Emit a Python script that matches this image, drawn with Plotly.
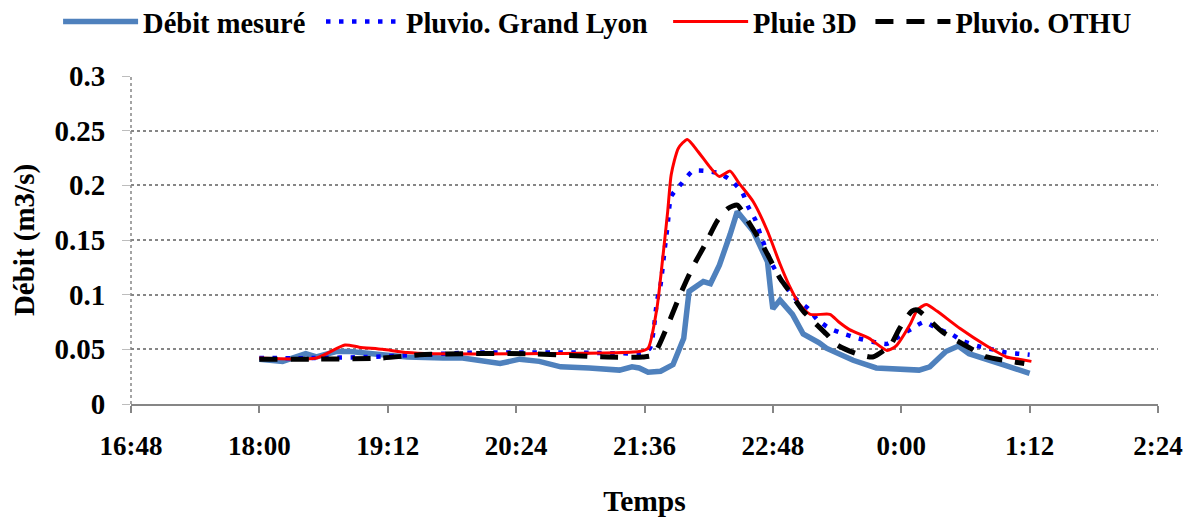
import plotly.graph_objects as go
from datetime import datetime, timedelta

# Débit mesuré (heure, m3/s)
t_mesure = ["18:00", "18:13", "18:26", "18:32", "18:43", "18:51", "19:09", "19:23", "19:43", "19:54",
            "20:15", "20:26", "20:37", "20:49", "21:05", "21:22", "21:29", "21:33", "21:38", "21:45",
            "21:52", "21:58", "22:01", "22:09", "22:13", "22:18", "22:24", "22:28", "22:37", "22:45",
            "22:47", "22:48", "22:52", "22:59", "23:05", "23:14", "23:18", "23:33", "23:46", "0:10",
            "0:16", "0:25", "0:32", "0:38", "0:57", "1:12"]
q_mesure = [0.041, 0.039, 0.046, 0.043, 0.048, 0.048, 0.045, 0.043, 0.042, 0.042,
            0.037, 0.041, 0.039, 0.034, 0.033, 0.031, 0.034, 0.033, 0.029, 0.030,
            0.036, 0.060, 0.103, 0.112, 0.110, 0.127, 0.155, 0.176, 0.158, 0.130,
            0.100, 0.087, 0.095, 0.082, 0.064, 0.056, 0.051, 0.040, 0.033, 0.031,
            0.034, 0.048, 0.053, 0.046, 0.036, 0.028]

# Pluvio. Grand Lyon
t_gl = ["18:00", "18:30", "19:00", "19:30", "20:00", "21:00", "21:35", "21:39", "21:41", "21:43",
        "21:45", "21:47", "21:49", "21:51", "21:57", "22:03", "22:11", "22:18", "22:25", "22:31",
        "22:34", "22:38", "22:41", "22:47", "22:52", "22:56", "23:01", "23:08", "23:13", "23:20",
        "23:28", "23:36", "23:44", "23:52", "23:59", "0:06", "0:13", "0:20", "0:28", "0:34",
        "0:43", "0:51", "0:59", "1:06", "1:12"]
q_gl = [0.042, 0.042, 0.043, 0.045, 0.047, 0.047, 0.047, 0.051, 0.066, 0.094,
        0.109, 0.137, 0.164, 0.190, 0.202, 0.213, 0.213, 0.211, 0.204, 0.193,
        0.181, 0.169, 0.155, 0.130, 0.115, 0.106, 0.096, 0.087, 0.077, 0.069,
        0.064, 0.060, 0.057, 0.055, 0.062, 0.069, 0.075, 0.069, 0.064, 0.058,
        0.053, 0.050, 0.047, 0.046, 0.045]

# Pluie 3D
t_3d = ["18:00", "18:32", "18:48", "18:56", "19:09", "19:23", "19:37", "20:30", "21:33", "21:38",
        "21:43", "21:46", "21:49", "21:51", "21:55", "22:00", "22:06", "22:13", "22:18", "22:24",
        "22:29", "22:37", "22:45", "22:52", "22:57", "23:03", "23:09", "23:20", "23:25", "23:31",
        "23:42", "23:52", "23:57", "0:05", "0:09", "0:14", "0:20", "0:33", "0:48", "0:59",
        "1:06", "1:13"]
q_3d = [0.042, 0.042, 0.054, 0.052, 0.050, 0.047, 0.046, 0.046, 0.048, 0.051,
        0.088, 0.130, 0.176, 0.210, 0.234, 0.242, 0.231, 0.216, 0.208, 0.213,
        0.202, 0.185, 0.158, 0.128, 0.109, 0.091, 0.082, 0.082, 0.075, 0.068,
        0.060, 0.049, 0.053, 0.073, 0.086, 0.091, 0.085, 0.069, 0.053, 0.043,
        0.041, 0.039]

# Pluvio. OTHU
t_othu = ["18:00", "18:30", "19:08", "19:30", "19:54", "20:30", "21:15", "21:35", "21:41", "21:49",
          "21:56", "22:03", "22:10", "22:17", "22:23", "22:28", "22:33", "22:42", "22:52", "22:56",
          "23:05", "23:18", "23:24", "23:35", "23:44", "23:54", "23:59", "0:06", "0:09", "0:23",
          "0:29", "0:42", "0:48", "1:01", "1:09"]
q_othu = [0.041, 0.041, 0.042, 0.045, 0.046, 0.046, 0.043, 0.043, 0.045, 0.072,
          0.100, 0.125, 0.146, 0.168, 0.179, 0.182, 0.170, 0.146, 0.115, 0.106,
          0.085, 0.064, 0.054, 0.046, 0.043, 0.054, 0.069, 0.085, 0.086, 0.066,
          0.060, 0.048, 0.043, 0.039, 0.037]

x_ticks = ["16:48", "18:00", "19:12", "20:24", "21:36", "22:48", "0:00", "1:12", "2:24"]
y_ticks = [0, 0.05, 0.1, 0.15, 0.2, 0.25, 0.3]


def to_dt(s):
    h, m = map(int, s.split(":"))
    jour = datetime(2009, 1, 1) if h >= 12 else datetime(2009, 1, 2)
    return jour + timedelta(hours=h, minutes=m)


FONT = "Liberation Serif, Times New Roman, serif"
GRIS = "#868686"

fig = go.Figure()

fig.add_trace(go.Scatter(
    x=[to_dt(t) for t in t_mesure], y=q_mesure, name="<b>Débit mesuré</b>", legend="legend",
    mode="lines", line=dict(color="#4F81BD", width=5.5)
))
fig.add_trace(go.Scatter(
    x=[to_dt(t) for t in t_gl], y=q_gl, name="<b>Pluvio. Grand Lyon</b>", legend="legend2",
    mode="lines", line=dict(color="#0000FF", width=4.5, dash="4.5px,8.5px", shape="spline", smoothing=0.6)
))
fig.add_trace(go.Scatter(
    x=[to_dt(t) for t in t_3d], y=q_3d, name="<b>Pluie 3D</b>", legend="legend3",
    mode="lines", line=dict(color="#FF0000", width=3, shape="spline", smoothing=0.6)
))
fig.add_trace(go.Scatter(
    x=[to_dt(t) for t in t_othu], y=q_othu, name="<b>Pluvio. OTHU</b>", legend="legend4",
    mode="lines", line=dict(color="#000000", width=5, dash="18px,13px", shape="spline", smoothing=0.6)
))

# ligne verticale pointillée de l'axe Y
fig.add_shape(type="line", xref="paper", yref="paper", x0=0, x1=0, y0=0, y1=1,
              line=dict(color=GRIS, width=1.5, dash="dot"))

leg = dict(orientation="h", xanchor="left", y=1.165, yanchor="middle",
           font=dict(family=FONT, size=28.5, color="black"),
           itemwidth=75, bgcolor="rgba(0,0,0,0)")

# la page a une marge de 8 px : la figure est réduite d'autant
fig.update_layout(
    width=1186, height=509,
    margin=dict(l=123, r=36, t=68, b=113, autoexpand=False),
    paper_bgcolor="white", plot_bgcolor="white",
    font=dict(family=FONT, size=27, color="black"),
    showlegend=True,
    legend=dict(leg, x=-0.071),
    legend2=dict(leg, x=0.185),
    legend3=dict(leg, x=0.523),
    legend4=dict(leg, x=0.72),
    xaxis=dict(
        range=[to_dt("16:48"), to_dt("2:24")],
        tickvals=[to_dt(t) for t in x_ticks], ticktext=[f"<b>{t}</b>" for t in x_ticks],
        tickfont=dict(family=FONT, size=27),
        showgrid=False, zeroline=False, automargin=False,
        showline=True, linecolor=GRIS, linewidth=2,
        ticks="outside", ticklen=7, tickcolor=GRIS, tickwidth=2,
        ticklabelstandoff=10,
        title=dict(text="<b>Temps</b>", standoff=30, font=dict(family=FONT, size=29.5)),
    ),
    yaxis=dict(
        range=[0, 0.3],
        tickvals=y_ticks, ticktext=[f"<b>{v:g}</b>" for v in y_ticks],
        tickfont=dict(family=FONT, size=29),
        showgrid=True, gridcolor=GRIS, griddash="dot", gridwidth=1.5,
        zeroline=False, showline=False, automargin=False,
        ticks="outside", ticklen=8, tickcolor="#BDBDBD",
        ticklabelstandoff=11,
        title=dict(text="<b>Débit (m3/s)</b>", standoff=12, font=dict(family=FONT, size=29)),
    ),
)

fig.write_html("out.html")
